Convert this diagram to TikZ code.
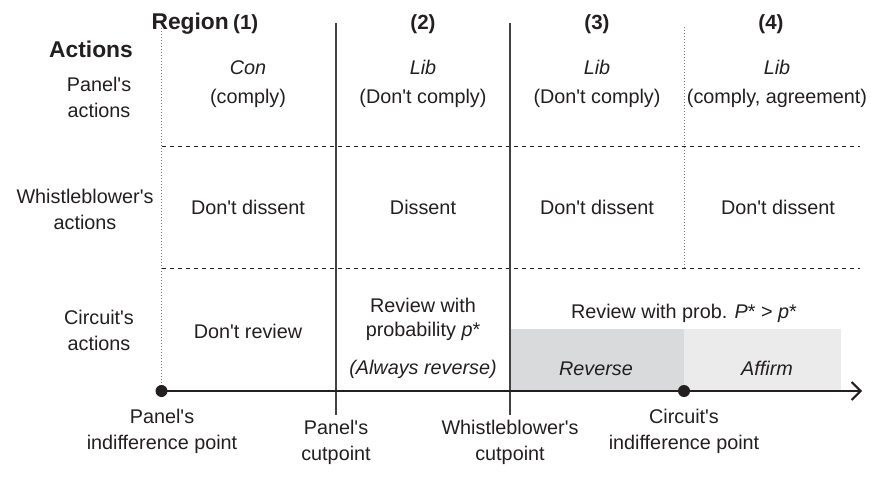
\documentclass[tikz,border=0pt]{standalone}
\usepackage{fontspec}
\setmainfont{Liberation Sans}[Ligatures=TeXOff]
\usetikzlibrary{arrows.meta}
\definecolor{ink}{HTML}{231F20}
\definecolor{revgray}{HTML}{D9DADB}
\definecolor{affgray}{HTML}{EBEBEB}
\tikzset{
  lbl/.style={inner sep=0pt, align=center, text=ink, font=\fontsize{19.8}{26}\selectfont},
  hdr/.style={lbl, font=\fontsize{20.5}{26}\selectfont\bfseries},
  bighdr/.style={lbl, font=\fontsize{22.8}{26}\selectfont\bfseries},
  solidline/.style={draw=ink!85, line width=1.1pt},
  dashline/.style={draw=ink, line width=1pt, dash pattern=on 4.5pt off 3.5pt},
  dotline/.style={draw=ink!60, line width=1pt, dash pattern=on 1pt off 2pt},
  axisline/.style={draw=ink, line width=2.6pt, -{Straight Barb[length=9pt,width=18pt,line width=2pt]}},
  dotmark/.style={circle, fill=ink, inner sep=0pt, minimum size=12pt},
}
\begin{document}
\begin{tikzpicture}[x=1pt,y=-1pt]
\useasboundingbox (0,0) rectangle (871,485);
% shaded boxes
\fill[revgray] (510,329) rectangle (684,391);
\fill[affgray] (684,329) rectangle (841,391);
% grid coordinates
\coordinate (v0t) at (161.5,28);
\coordinate (v0b) at (161.5,385);
\coordinate (v1t) at (336,23);
\coordinate (v1b) at (336,415);
\coordinate (v2t) at (510,23);
\coordinate (v2b) at (510,415);
\coordinate (v3t) at (684,27);
\coordinate (v3b) at (684,268);
\coordinate (h1l) at (161.5,146);
\coordinate (h1r) at (860,146);
\coordinate (h2l) at (161.5,268);
\coordinate (h2r) at (860,268);
\coordinate (axend) at (862,391);
\draw[dotline] (v0t) -- (v0b);
\draw[dotline] (v3t) -- (v3b);
\draw[dashline] (h1l) -- (h1r);
\draw[dashline] (h2l) -- (h2r);
\draw[solidline] (v1t) -- (v1b);
\draw[solidline] (v2t) -- (v2b);
% axis
\node[dotmark] (pind) at (161.5,391) {};
\node[dotmark] (cind) at (684,391) {};
\draw[axisline] (pind.center) -- (axend);
% headers
\node[bighdr, anchor=base east] (r1) at (229,29) {Region};
\node[hdr, anchor=base west] (r1n) at (233,29) {(1)};
\node[hdr, anchor=base] (r2) at (423,29) {(2)};
\node[hdr, anchor=base] (r3) at (597,29) {(3)};
\node[hdr, anchor=base] (r4) at (771,29) {(4)};
\node[bighdr, anchor=base east] (act) at (133,57) {Actions};
% row labels
\node[lbl] (panlab) at (99,97.5) {Panel's\\actions};
\node[lbl] (whilab) at (85,209.5) {Whistleblower's\\actions};
\node[lbl] (cirlab) at (99,330.5) {Circuit's\\actions};
% row 1
\node[lbl, anchor=base] (c1a) at (248,74) {\itshape Con};
\node[lbl, anchor=base] (c1b) at (248,103) {(comply)};
\node[lbl, anchor=base] (c2a) at (423,74) {\itshape Lib};
\node[lbl, anchor=base] (c2b) at (423,103) {(Don't comply)};
\node[lbl, anchor=base] (c3a) at (597,74) {\itshape Lib};
\node[lbl, anchor=base] (c3b) at (597,103) {(Don't comply)};
\node[lbl, anchor=base] (c4a) at (777,74) {\itshape Lib};
\node[lbl, anchor=base] (c4b) at (777,103) {(comply, agreement)};
% row 2
\node[lbl, anchor=base] (w1) at (248,214) {Don't dissent};
\node[lbl, anchor=base] (w2) at (423,214) {Dissent};
\node[lbl, anchor=base] (w3) at (597,214) {Don't dissent};
\node[lbl, anchor=base] (w4) at (778,214) {Don't dissent};
% row 3
\node[lbl, anchor=base] (k1) at (248,338) {Don't review};
\node[lbl, anchor=base] (k2a) at (423,312) {Review with};
\node[lbl, anchor=base] (k2b) at (423,336) {probability \textit{p}*};
\node[lbl, anchor=base] (k2c) at (423,374) {\itshape (Always reverse)};
\node[lbl, anchor=base] (k34) at (684,318) {Review with prob. \textit{P}* > \textit{p}*};
\node[lbl, anchor=base] (rev) at (596,375) {\itshape Reverse};
\node[lbl, anchor=base] (aff) at (767,375) {\itshape Affirm};
% bottom labels
\node[lbl, anchor=base] (b1a) at (162,423) {Panel's};
\node[lbl, anchor=base] (b1b) at (162,449) {indifference point};
\node[lbl, anchor=base] (b2a) at (336,434) {Panel's};
\node[lbl, anchor=base] (b2b) at (336,460) {cutpoint};
\node[lbl, anchor=base] (b3a) at (510,434) {Whistleblower's};
\node[lbl, anchor=base] (b3b) at (510,460) {cutpoint};
\node[lbl, anchor=base] (b4a) at (684,423) {Circuit's};
\node[lbl, anchor=base] (b4b) at (684,449) {indifference point};
\end{tikzpicture}
\end{document}
